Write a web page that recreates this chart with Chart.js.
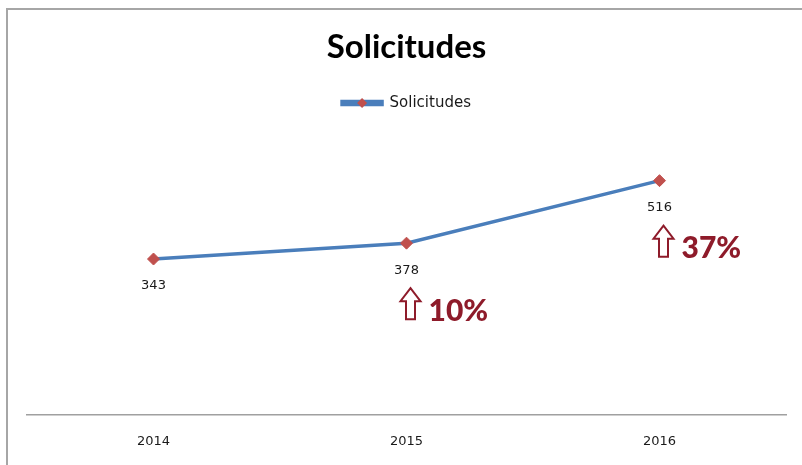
<!DOCTYPE html>
<html lang="es">
  <head>
    <meta charset="UTF-8" />
    <title>Solicitudes</title>
    <script src="https://cdn.jsdelivr.net/npm/chart.js"></script>
    <style>
      html, body {
        margin: 0;
        padding: 0;
        background: #fff;
      }
      .wrap {
        position: relative;
        width: 802px;
        height: 465px;
      }
      .frame {
        position: absolute;
        left: 6px;
        top: 8px;
        right: 0;
        bottom: 0;
        border-left: 2px solid #a6a6a6;
        border-top: 2px solid #a6a6a6;
        pointer-events: none;
      }
      canvas {
        position: absolute;
        left: 0;
        top: 0;
      }
    </style>
  </head>
  <body>
    <div class="wrap">
      <canvas id="chart" width="802" height="465"></canvas>
      <div class="frame"></div>
    </div>

    <script>
      const years = ["2014", "2015", "2016"];
      const solicitudes = [343, 378, 516];
      const growth = ["", "10%", "37%"];

      const lineColor = "#4a7ebb";
      const markerColor = "#c0504d";
      const arrowColor = "#8e1b2a";

      // labels under the points, up arrows with the yearly growth
      const annotations = {
        id: "annotations",
        afterDatasetsDraw(chart) {
          const ctx = chart.ctx;
          const points = chart.getDatasetMeta(0).data;
          ctx.save();
          points.forEach((pt, i) => {
            ctx.fillStyle = "#1a1a1a";
            ctx.font = "13px 'DejaVu Sans'";
            ctx.textAlign = "center";
            ctx.textBaseline = "middle";
            ctx.fillText(String(solicitudes[i]), pt.x, pt.y + 27);

            if (!growth[i]) return;
            const cx = pt.x + 4;
            const top = pt.y + 45;
            const h = 31, headH = 13, headW = 10, shaftW = 4.5;
            ctx.beginPath();
            ctx.moveTo(cx, top);
            ctx.lineTo(cx + headW, top + headH);
            ctx.lineTo(cx + shaftW, top + headH);
            ctx.lineTo(cx + shaftW, top + h);
            ctx.lineTo(cx - shaftW, top + h);
            ctx.lineTo(cx - shaftW, top + headH);
            ctx.lineTo(cx - headW, top + headH);
            ctx.closePath();
            ctx.fillStyle = "#fff";
            ctx.fill();
            ctx.strokeStyle = arrowColor;
            ctx.lineWidth = 2;
            ctx.stroke();

            ctx.fillStyle = arrowColor;
            ctx.font = "900 30px Lato";
            ctx.textAlign = "left";
            ctx.fillText(growth[i], cx + headW + 8, pt.y + 68);
          });
          ctx.restore();
        },
        afterDraw(chart) {
          // diamond in the middle of the legend line
          const box = chart.legend.legendHitBoxes[0];
          if (!box) return;
          const ctx = chart.ctx;
          const x = box.left + 20, y = box.top + box.height / 2;
          ctx.save();
          ctx.fillStyle = markerColor;
          ctx.beginPath();
          ctx.moveTo(x, y - 5);
          ctx.lineTo(x + 5, y);
          ctx.lineTo(x, y + 5);
          ctx.lineTo(x - 5, y);
          ctx.closePath();
          ctx.fill();
          ctx.restore();
        },
      };

      new Chart(document.getElementById("chart"), {
        type: "line",
        data: {
          labels: years,
          datasets: [
            {
              label: "Solicitudes",
              data: solicitudes,
              borderColor: lineColor,
              backgroundColor: lineColor,
              borderWidth: 3.5,
              tension: 0,
              pointStyle: "rectRot",
              pointRadius: 6,
              pointHoverRadius: 6,
              pointBackgroundColor: markerColor,
              pointBorderColor: markerColor,
              pointBorderWidth: 1,
            },
          ],
        },
        options: {
          responsive: false,
          animation: false,
          layout: {
            padding: { left: 27, right: 16, top: 0, bottom: -3 },
          },
          scales: {
            x: {
              offset: true,
              grid: { display: false, drawTicks: false },
              border: { display: true, color: "#a0a0a0", width: 1.5 },
              ticks: {
                color: "#1a1a1a",
                font: { family: "'DejaVu Sans'", size: 13 },
                padding: 19,
              },
            },
            y: {
              display: false,
              min: 0,
              max: 600,
            },
          },
          plugins: {
            title: {
              display: true,
              text: "Solicitudes",
              color: "#000",
              font: { family: "Lato", size: 33, weight: "bold" },
              padding: { top: 28, bottom: 0 },
            },
            legend: {
              display: true,
              labels: {
                color: "#1a1a1a",
                font: { family: "'DejaVu Sans'", size: 15 },
                boxWidth: 40,
                boxHeight: 3,
                padding: 28,
              },
            },
            // empty spacer between legend and plot area
            subtitle: {
              display: true,
              text: "",
              weight: 500,
              font: { size: 10 },
              padding: { top: 10, bottom: 0 },
            },
            tooltip: { enabled: false },
          },
        },
        plugins: [annotations],
      });
    </script>
  </body>
</html>
